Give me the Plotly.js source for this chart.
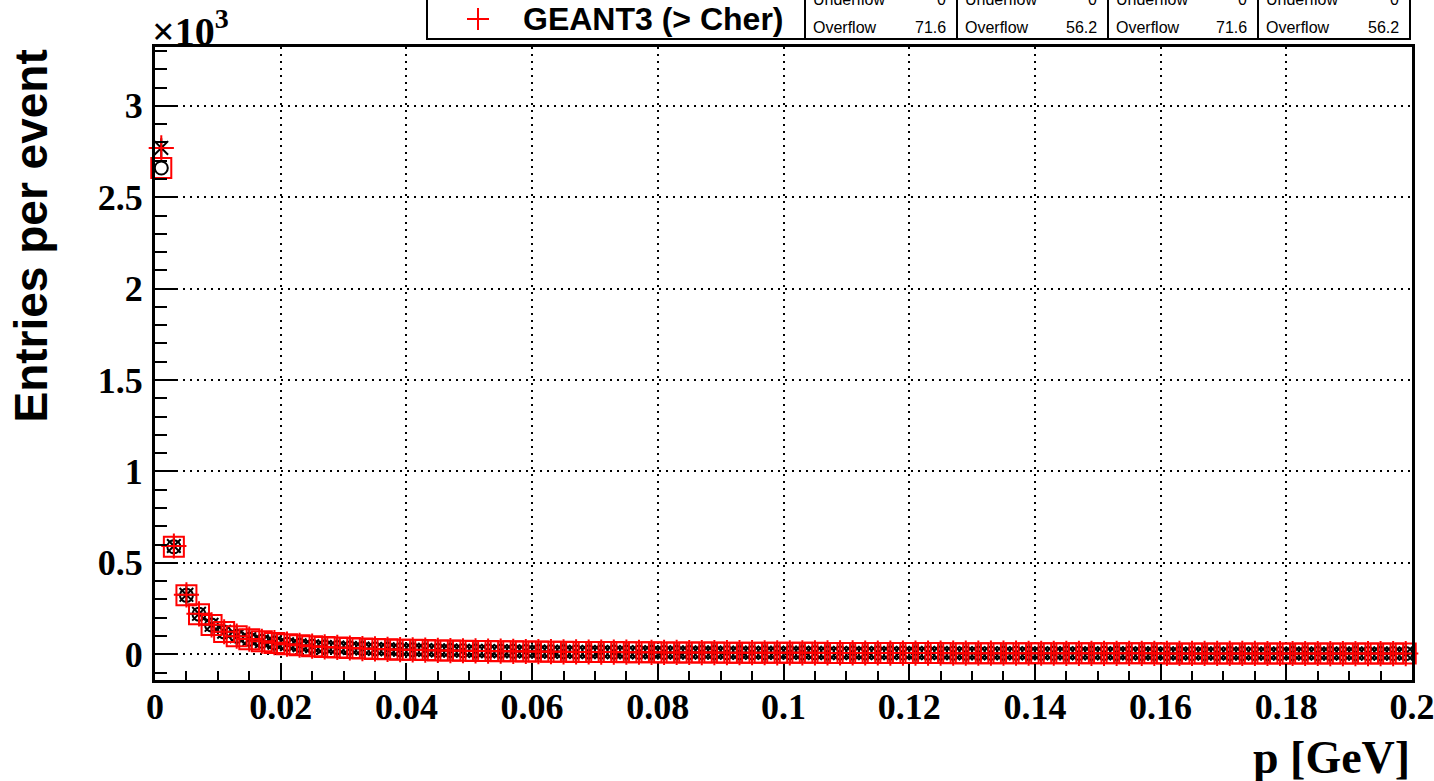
<!DOCTYPE html>
<html>
<head>
<meta charset="utf-8">
<script src="https://cdn.plot.ly/plotly-3.0.1.min.js"></script>
<style>
html, body { margin: 0; padding: 0; background: #ffffff; }
#chart { width: 1434px; height: 781px; }
</style>
</head>
<body>
<div id="chart"></div>
<script>
// ---------------- DATA ----------------
const binCenters = [
  0.001, 0.003, 0.005, 0.007, 0.009, 0.011, 0.013, 0.015, 0.017, 0.019,
  0.021, 0.023, 0.025, 0.027, 0.029, 0.031, 0.033, 0.035, 0.037, 0.039,
  0.041, 0.043, 0.045, 0.047, 0.049, 0.051, 0.053, 0.055, 0.057, 0.059,
  0.061, 0.063, 0.065, 0.067, 0.069, 0.071, 0.073, 0.075, 0.077, 0.079,
  0.081, 0.083, 0.085, 0.087, 0.089, 0.091, 0.093, 0.095, 0.097, 0.099,
  0.101, 0.103, 0.105, 0.107, 0.109, 0.111, 0.113, 0.115, 0.117, 0.119,
  0.121, 0.123, 0.125, 0.127, 0.129, 0.131, 0.133, 0.135, 0.137, 0.139,
  0.141, 0.143, 0.145, 0.147, 0.149, 0.151, 0.153, 0.155, 0.157, 0.159,
  0.161, 0.163, 0.165, 0.167, 0.169, 0.171, 0.173, 0.175, 0.177, 0.179,
  0.181, 0.183, 0.185, 0.187, 0.189, 0.191, 0.193, 0.195, 0.197, 0.199
];

// histograms drawn with black circles / red squares (identical)
const entriesA = [
  2660, 588, 322, 219, 160, 122, 98, 82, 71, 62,
  55, 49, 44, 40, 37, 34, 31, 29, 27, 25,
  24, 22.5, 21, 20, 19, 18, 17, 16.5, 15.8, 15,
  14.4, 13.8, 13.3, 12.8, 12.3, 11.9, 11.5, 11.1, 10.7, 10.4,
  10.1, 9.8, 9.5, 9.2, 9.0, 8.7, 8.5, 8.3, 8.1, 7.9,
  7.7, 7.5, 7.4, 7.2, 7.1, 6.9, 6.8, 6.7, 6.5, 6.4,
  6.3, 6.2, 6.1, 6.0, 5.9, 5.8, 5.7, 5.6, 5.5, 5.4,
  5.3, 5.3, 5.2, 5.1, 5.0, 4.9, 4.9, 4.8, 4.7, 4.7,
  4.6, 4.5, 4.5, 4.4, 4.3, 4.3, 4.2, 4.2, 4.1, 4.0,
  4.0, 3.9, 3.9, 3.8, 3.8, 3.7, 3.7, 3.6, 3.6, 3.5
];

// histograms drawn with black stars / red plus signs (identical)
const entriesB = [
  2770, 592, 325, 221, 161, 123, 99, 83, 71, 63,
  55, 49, 44, 40, 37, 34, 31, 29, 27, 25,
  24, 22.5, 21, 20, 19, 18, 17, 16.5, 15.8, 15,
  14.4, 13.8, 13.3, 12.8, 12.3, 11.9, 11.5, 11.1, 10.7, 10.4,
  10.1, 9.8, 9.5, 9.2, 9.0, 8.7, 8.5, 8.3, 8.1, 7.9,
  7.7, 7.5, 7.4, 7.2, 7.1, 6.9, 6.8, 6.7, 6.5, 6.4,
  6.3, 6.2, 6.1, 6.0, 5.9, 5.8, 5.7, 5.6, 5.5, 5.4,
  5.3, 5.3, 5.2, 5.1, 5.0, 4.9, 4.9, 4.8, 4.7, 4.7,
  4.6, 4.5, 4.5, 4.4, 4.3, 4.3, 4.2, 4.2, 4.1, 4.0,
  4.0, 3.9, 3.9, 3.8, 3.8, 3.7, 3.7, 3.6, 3.6, 3.5
];

const xTickVals = [0, 0.02, 0.04, 0.06, 0.08, 0.1, 0.12, 0.14, 0.16, 0.18, 0.2];
const xTickText = ['0', '0.02', '0.04', '0.06', '0.08', '0.1', '0.12', '0.14', '0.16', '0.18', '0.2'];
const yTickVals = [0, 500, 1000, 1500, 2000, 2500, 3000];
const yTickText = ['0', '0.5', '1', '1.5', '2', '2.5', '3'];

const legendLabel = 'GEANT3 (&gt; Cher)';
const statUnderflow = ['0', '0', '0', '0'];
const statOverflow = ['71.6', '56.2', '71.6', '56.2'];

// ---------------- LAYOUT HELPERS ----------------
const L = 155, R = 1412, T = 47, B = 680;
const px = x => (x - L) / (R - L);
const py = y => (B - y) / (B - T);

const traces = [
  { x: binCenters, y: entriesA, type: 'scatter', mode: 'markers', cliponaxis: false,
    marker: { symbol: 'circle-open', size: 13, color: '#000', line: { color: '#000', width: 2 } } },
  { x: binCenters, y: entriesB, type: 'scatter', mode: 'markers', cliponaxis: false,
    marker: { symbol: 'asterisk-open', size: 16, color: '#000', line: { color: '#000', width: 2 } } },
  { x: binCenters, y: entriesA, type: 'scatter', mode: 'markers', cliponaxis: false,
    marker: { symbol: 'square-open', size: 20, color: '#ff0000', line: { color: '#ff0000', width: 2 } } },
  { x: binCenters, y: entriesB, type: 'scatter', mode: 'markers', cliponaxis: false,
    marker: { symbol: 'cross-thin-open', size: 18, color: '#ff0000', line: { color: '#ff0000', width: 2 } } }
];

const shapes = [];
const annotations = [];

// legend box (cut at the top of the canvas)
shapes.push({ type: 'rect', xref: 'paper', yref: 'paper', x0: px(427), x1: px(805), y0: py(39), y1: py(-20),
  line: { color: '#000', width: 2 }, fillcolor: '#fff', layer: 'above' });
shapes.push({ type: 'line', xref: 'paper', yref: 'paper', x0: px(467), x1: px(489), y0: py(19), y1: py(19),
  line: { color: '#ff0000', width: 2 } });
shapes.push({ type: 'line', xref: 'paper', yref: 'paper', x0: px(478), x1: px(478), y0: py(8), y1: py(30),
  line: { color: '#ff0000', width: 2 } });
annotations.push({ xref: 'paper', yref: 'paper', x: px(521), y: py(19), xanchor: 'left', yanchor: 'middle',
  text: '<b>' + legendLabel + '</b>', showarrow: false,
  font: { family: 'Liberation Sans, Arial, sans-serif', size: 32, color: '#000' } });

// statistics boxes
const boxEdges = [805, 957, 1108, 1258, 1410];
for (let i = 0; i < 4; i++) {
  shapes.push({ type: 'rect', xref: 'paper', yref: 'paper', x0: px(boxEdges[i]), x1: px(boxEdges[i + 1]),
    y0: py(39), y1: py(-20), line: { color: '#000', width: 2 }, fillcolor: '#fff', layer: 'above' });
  const rows = [['Underflow', statUnderflow[i], -1], ['Overflow', statOverflow[i], 27]];
  rows.forEach(r => {
    annotations.push({ xref: 'paper', yref: 'paper', x: px(boxEdges[i] + 6), y: py(r[2]),
      xanchor: 'left', yanchor: 'middle', text: r[0], showarrow: false,
      font: { family: 'Liberation Sans, Arial, sans-serif', size: 16, color: '#000' } });
    annotations.push({ xref: 'paper', yref: 'paper', x: px(boxEdges[i + 1] - 9), y: py(r[2]),
      xanchor: 'right', yanchor: 'middle', text: r[1], showarrow: false,
      font: { family: 'Liberation Sans, Arial, sans-serif', size: 16, color: '#000' } });
  });
}

// exponent label
annotations.push({ xref: 'paper', yref: 'paper', x: px(150), y: py(56), xanchor: 'left', yanchor: 'bottom',
  text: '<b>×10<sup>3</sup></b>', showarrow: false,
  font: { family: 'Liberation Serif, Times New Roman, serif', size: 40, color: '#000' } });

// axis titles
annotations.push({ xref: 'paper', yref: 'paper', x: px(30), y: py(48), xanchor: 'center', yanchor: 'top',
  text: '<b>Entries per event</b>', textangle: -90, showarrow: false,
  font: { family: 'Liberation Sans, Arial, sans-serif', size: 46, color: '#000' } });
annotations.push({ xref: 'paper', yref: 'paper', x: px(1412), y: py(757), xanchor: 'right', yanchor: 'middle',
  text: '<b>p [GeV]</b>', showarrow: false,
  font: { family: 'Liberation Serif, Times New Roman, serif', size: 46, color: '#000' } });

const axisCommon = {
  showline: true, linecolor: '#000', linewidth: 3, mirror: true,
  ticks: 'inside', tickcolor: '#000', tickwidth: 2,
  showgrid: true, gridcolor: '#000', gridwidth: 2, griddash: '2px,5px',
  zeroline: false, tickmode: 'array', ticklabeloverflow: 'allow',
  tickfont: { family: 'Liberation Serif, Times New Roman, serif', size: 36, color: '#000', weight: 'bold' }
};

const layout = {
  width: 1434, height: 781,
  margin: { l: L, r: 1434 - R, t: T, b: 781 - B, pad: 0 },
  paper_bgcolor: '#fff', plot_bgcolor: '#fff',
  showlegend: false,
  xaxis: Object.assign({}, axisCommon, {
    range: [0, 0.2], tickvals: xTickVals, ticktext: xTickText, ticklen: 16,
    ticklabelstandoff: -7,
    minor: { tickmode: 'linear', tick0: 0, dtick: 0.005, ticks: 'inside', ticklen: 9, tickwidth: 2, tickcolor: '#000', showgrid: false }
  }),
  yaxis: Object.assign({}, axisCommon, {
    range: [-141, 3322], tickvals: yTickVals, ticktext: yTickText, ticklen: 22,
    ticklabelstandoff: 2,
    minor: { tickmode: 'linear', tick0: 0, dtick: 100, ticks: 'inside', ticklen: 12, tickwidth: 2, tickcolor: '#000', showgrid: false }
  }),
  shapes: shapes,
  annotations: annotations
};

Plotly.newPlot('chart', traces, layout, { staticPlot: true, displayModeBar: false });
</script>
</body>
</html>
